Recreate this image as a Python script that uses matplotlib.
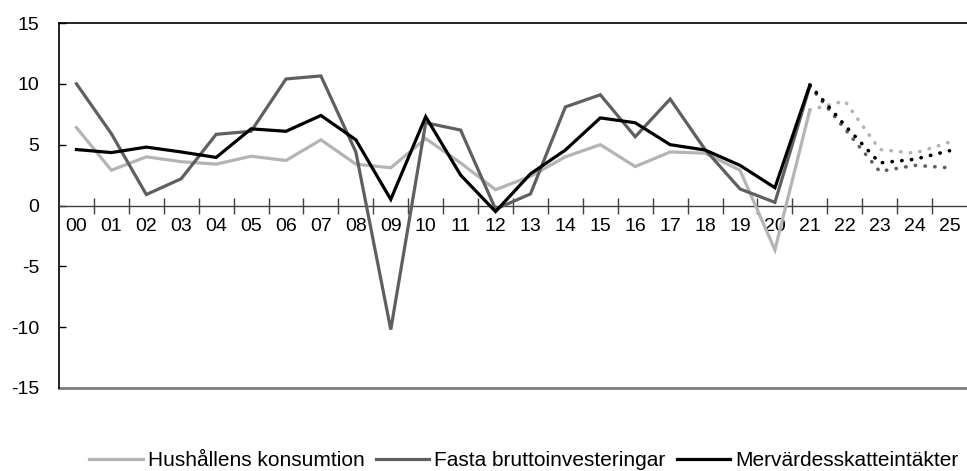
import numpy as np
import matplotlib
matplotlib.use("Agg")
import matplotlib.pyplot as plt
from matplotlib.ticker import FixedLocator

plt.rcParams['font.family'] = ['Liberation Sans', 'DejaVu Sans']

years = ["00", "01", "02", "03", "04", "05", "06", "07", "08", "09", "10", "11", "12",
         "13", "14", "15", "16", "17", "18", "19", "20", "21", "22", "23", "24", "25"]

# outcome 2000-2021, forecast 2021-2025 (dotted)
hushall = [6.4, 2.9, 4.0, 3.6, 3.4, 4.05, 3.7, 5.4, 3.4, 3.1, 5.5, 3.5, 1.3,
           2.4, 4.0, 5.0, 3.2, 4.4, 4.3, 2.9, -3.65, 7.85, 8.6, 4.6, 4.3, 5.2]
fasta = [10.0, 5.9, 0.9, 2.2, 5.85, 6.1, 10.4, 10.65, 4.4, -10.2, 6.8, 6.2, -0.3,
         0.95, 8.1, 9.1, 5.65, 8.75, 4.6, 1.36, 0.26, 9.8, 6.3, 2.8, 3.3, 3.1]
moms = [4.6, 4.35, 4.8, 4.4, 3.95, 6.3, 6.1, 7.4, 5.4, 0.5, 7.3, 2.5, -0.5,
        2.6, 4.56, 7.2, 6.8, 5.0, 4.56, 3.3, 1.46, 9.9, 6.6, 3.5, 3.8, 4.5]

labels = ["Hushållens konsumtion", "Fasta bruttoinvesteringar", "Mervärdesskatteintäkter"]
colors = ["#b4b4b4", "#5f5f5f", "#000000"]
split = 21  # index of last outcome year

fig = plt.figure(figsize=(9.67, 4.71), dpi=100)
ax = fig.add_axes([59 / 967, 1 - 388 / 471, 1 - 59 / 967, (388 - 23) / 471])

x = np.arange(len(years))
for vals, lab, col in zip([hushall, fasta, moms], labels, colors):
    ax.plot(x[:split + 1], vals[:split + 1], color=col, lw=2.3, label=lab,
            solid_joinstyle="miter", zorder=3)
    ax.plot(x[split:], vals[split:], color=col, lw=2.6, linestyle=(0, (0.1, 2.6)),
            dash_capstyle="round", zorder=3)

ax.set_xlim(-0.5, len(years) - 0.5)
ax.set_ylim(-15, 15)
ax.set_yticks([-15, -10, -5, 0, 5, 10, 15])
ax.set_yticklabels(["-15", "-10", "-5", "0", "5", "10", "15"])
ax.tick_params(axis="y", direction="in", length=5, width=1, pad=14, labelsize=14,
               color="#000000")

# category axis sits on the zero line
ax.spines["bottom"].set_position(("data", 0))
ax.spines["bottom"].set_color("#404040")
ax.spines["bottom"].set_linewidth(1)
ax.spines["right"].set_visible(False)
ax.spines["top"].set_linewidth(1.2)
ax.spines["left"].set_linewidth(1.2)
ax.set_xticks(x)
ax.set_xticklabels(years)
ax.xaxis.set_minor_locator(FixedLocator(np.arange(0.5, len(years) - 0.5, 1)))
ax.tick_params(axis="x", which="major", length=0, pad=9, labelsize=14)
ax.tick_params(axis="x", which="minor", direction="inout", length=12, width=1,
               color="#404040")
ax.axhline(-15, color="#7f7f7f", lw=2, clip_on=False, zorder=2)

fig.legend(loc="center", bbox_to_anchor=(524 / 967, 1 - 461 / 471), ncol=3,
           frameon=False, fontsize=15, handlelength=2.55, handletextpad=0.25,
           columnspacing=0.55, borderaxespad=0, borderpad=0)

fig.savefig("out.png", dpi=100)
